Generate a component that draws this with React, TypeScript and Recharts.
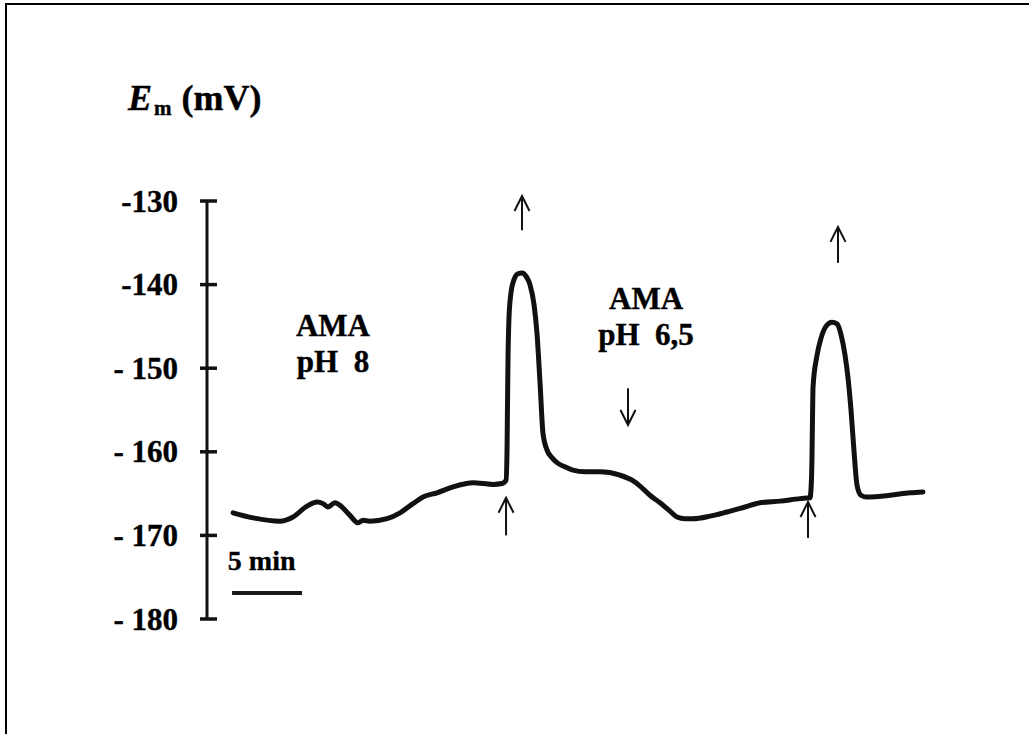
import React from "react";
import { LineChart, Line, XAxis, YAxis, ReferenceLine, ReferenceDot } from "recharts";

// Membrane potential trace: time in minutes, Em in mV
const timeMin = [
  1.86, 3.29, 5.21, 6.14, 7.14, 7.86, 8.29, 8.64, 9.14, 9.5, 10.21, 10.79, 11.14, 11.64, 12.86,
  13.79, 14.71, 15.43, 16.43, 17.57, 19.0, 20.43, 21.07, 21.36, 21.43, 21.46, 21.5, 21.57, 21.71,
  21.93, 22.21, 22.5, 22.79, 23.07, 23.36, 23.57, 23.79, 24.0, 24.29, 24.64, 25.0, 25.57, 26.14,
  27.0, 28.07, 29.5, 30.36, 30.93, 31.64, 32.36, 33.07, 33.57, 34.14, 34.71, 35.93, 37.14, 38.43,
  39.5, 40.93, 42.36, 43.07, 43.14, 43.21, 43.25, 43.29, 43.57, 43.86, 44.21, 44.64, 45.0, 45.29,
  45.57, 45.79, 46.0, 46.21, 46.43, 46.71, 47.07, 48.79, 50.21, 51.14,
];
const emValues = [
  -167.3, -167.9, -168.3, -167.8, -166.5, -166.0, -166.2, -166.6, -166.1, -166.4, -167.6, -168.5,
  -168.2, -168.3, -168.0, -167.3, -166.2, -165.4, -164.9, -164.2, -163.7, -163.9, -163.8, -163.4,
  -160.0, -155.0, -149.0, -144.0, -141.0, -139.4, -138.7, -138.6, -139.0, -140.0, -142.4, -145.8,
  -151.8, -157.8, -159.8, -160.7, -161.3, -161.8, -162.2, -162.4, -162.4, -162.8, -163.4, -164.1,
  -165.2, -166.1, -167.1, -167.8, -168.0, -168.0, -167.7, -167.2, -166.6, -166.1, -165.9, -165.6,
  -165.5, -164.6, -161.0, -156.0, -152.2, -148.5, -146.4, -145.0, -144.5, -144.7, -146.0, -148.4,
  -151.2, -155.0, -159.8, -164.0, -165.2, -165.4, -165.2, -164.9, -164.8,
];

const yTicks = [-130, -140, -150, -160, -170, -180];
const yTickLabels = ["-130", "-140", "- 150", "- 160", "- 170", "- 180"];

// Arrows: [tail, tip] in (min, mV)
const arrows = [
  { from: { t: 21.36, em: -170.0 }, to: { t: 21.36, em: -165.5 } },
  { from: { t: 22.5, em: -133.5 }, to: { t: 22.5, em: -129.4 } },
  { from: { t: 30.07, em: -152.4 }, to: { t: 30.07, em: -156.8 } },
  { from: { t: 42.93, em: -170.3 }, to: { t: 42.93, em: -166.0 } },
  { from: { t: 45.07, em: -137.4 }, to: { t: 45.07, em: -133.1 } },
];

// Time scale bar (5 min)
const scaleBarStart = 1.79;
const scaleBarMinutes = 5;
const scaleBarLevel = -176.9;
const scaleBarLabel = "5 min";

// Treatment annotations
const annotations = [
  { t: 9.0, em: -146.15, lines: ["AMA", "pH  8"] },
  { t: 31.36, em: -142.9, lines: ["AMA", "pH  6,5"] },
];

const data = timeMin.map((t, i) => ({ t, em: emValues[i] }));

const FONT = "'Liberation Serif', 'Times New Roman', serif";
const INK = "#111";

const renderTick = (props: any) => {
  const { x, y, payload } = props;
  const idx = yTicks.indexOf(payload.value);
  return (
    <g>
      <line x1={x - 7} x2={x + 10} y1={y} y2={y} stroke={INK} strokeWidth={3.5} />
      <text
        x={x - 29}
        y={y}
        dy={10.5}
        textAnchor="end"
        fontFamily={FONT}
        fontWeight="bold"
        fontSize={31}
        fill="#000"
        stroke="#000"
        strokeWidth={0.4}
        style={{ whiteSpace: "pre" }}
      >
        {idx >= 0 ? yTickLabels[idx] : payload.value}
      </text>
    </g>
  );
};

const arrowShape = (props: any) => {
  const { x1, y1, x2, y2 } = props;
  const dx = x2 - x1;
  const dy = y2 - y1;
  const len = Math.sqrt(dx * dx + dy * dy) || 1;
  const ux = dx / len;
  const uy = dy / len;
  const hx = x2 - ux * 15;
  const hy = y2 - uy * 15;
  const px = -uy * 7.5;
  const py = ux * 7.5;
  return (
    <g>
      <line x1={x1} y1={y1} x2={x2} y2={y2} stroke={INK} strokeWidth={2} />
      <polyline
        points={`${hx + px},${hy + py} ${x2},${y2} ${hx - px},${hy - py}`}
        fill="none"
        stroke={INK}
        strokeWidth={2}
      />
    </g>
  );
};

const titleContent = (props: any) => {
  const vb = props.viewBox || {};
  const x = (vb.x ?? 127) + 1;
  const y = (vb.y ?? 201) - 91;
  return (
    <text x={x} y={y} fontFamily={FONT} fontWeight="bold" fontSize={36} fill="#000" stroke="#000" strokeWidth={0.4}>
      <tspan fontStyle="italic">E</tspan>
      <tspan fontSize={21} dx={2} dy={5}>m</tspan>
      <tspan dx={10} dy={-5}>(mV)</tspan>
    </text>
  );
};

export default function App() {
  return (
    <div style={{ position: "absolute", left: 0, top: 0, width: 1029, height: 734, background: "#fff" }}>
      <div
        style={{
          position: "absolute",
          left: 5,
          top: 3,
          width: 1024,
          height: 731,
          borderTop: "2px solid #000",
          borderLeft: "2px solid #000",
          boxSizing: "border-box",
        }}
      />
      <div style={{ position: "absolute", left: 0, top: 0 }}>
        <LineChart width={1029} height={734} data={data} margin={{ top: 201, right: 80, bottom: 115, left: 127 }}>
          <XAxis dataKey="t" type="number" domain={[0, 53]} hide />
          <YAxis
            type="number"
            domain={[-180, -130]}
            ticks={yTicks}
            width={80}
            tickSize={0}
            tickMargin={0}
            tick={renderTick}
            tickLine={false}
            axisLine={{ stroke: INK, strokeWidth: 3 }}
            interval={0}
            allowDataOverflow
            label={{ content: titleContent }}
          />
          <Line
            dataKey="em"
            type="monotone"
            stroke={INK}
            strokeWidth={5}
            strokeLinejoin="round"
            strokeLinecap="round"
            dot={false}
            activeDot={false}
            isAnimationActive={false}
          />
          {arrows.map((a, i) => (
            <ReferenceLine
              key={`arrow-${i}`}
              segment={[
                { x: a.from.t, y: a.from.em },
                { x: a.to.t, y: a.to.em },
              ]}
              ifOverflow="visible"
              stroke={INK}
              shape={arrowShape}
            />
          ))}
          <ReferenceLine
            segment={[
              { x: scaleBarStart, y: scaleBarLevel },
              { x: scaleBarStart + scaleBarMinutes, y: scaleBarLevel },
            ]}
            ifOverflow="visible"
            stroke="#1a1a1a"
            strokeWidth={4}
          />
          <ReferenceDot
            x={scaleBarStart - 0.3}
            y={-174.1}
            r={0}
            ifOverflow="visible"
            shape={(p: any) => (
              <text x={p.cx} y={p.cy} fontFamily={FONT} fontWeight="bold" fontSize={28} fill="#000" stroke="#000" strokeWidth={0.3}>
                {scaleBarLabel}
              </text>
            )}
          />
          {annotations.map((a, i) => (
            <ReferenceDot
              key={`ann-${i}`}
              x={a.t}
              y={a.em}
              r={0}
              ifOverflow="visible"
              shape={(p: any) => (
                <text
                  x={p.cx}
                  y={p.cy}
                  textAnchor="middle"
                  fontFamily={FONT}
                  fontWeight="bold"
                  fontSize={31}
                  fill="#000"
                  stroke="#000"
                  strokeWidth={0.4}
                  style={{ whiteSpace: "pre" }}
                >
                  {a.lines.map((ln, j) => (
                    <tspan key={j} x={p.cx} dy={j === 0 ? 0 : 36}>
                      {ln}
                    </tspan>
                  ))}
                </text>
              )}
            />
          ))}
        </LineChart>
      </div>
    </div>
  );
}
